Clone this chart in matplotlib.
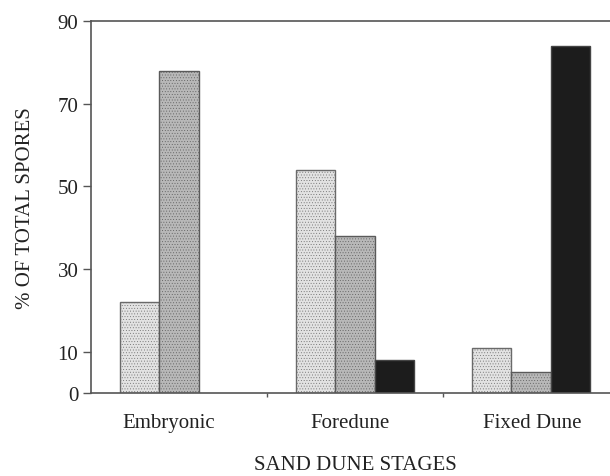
import numpy as np
import matplotlib
matplotlib.use('Agg')
import matplotlib.pyplot as plt

# Data
stages = ['Embryonic', 'Foredune', 'Fixed Dune']
light_vals = [22, 54, 11]
medium_vals = [78, 38, 5]
dark_vals = [0, 8, 84]
y_ticks = [0, 10, 30, 50, 70, 90]

plt.rcParams['font.family'] = ['Liberation Serif', 'DejaVu Serif']
plt.rcParams['hatch.linewidth'] = 0.3

fig = plt.figure(figsize=(6.10, 4.77), dpi=100)
ax = fig.add_axes([0.149, 0.174, 0.851, 0.780])

x = np.arange(len(stages))
w = 0.224

ax.bar(x - w, light_vals, w, color='#e2e2e2', edgecolor='#6a6a6a', hatch='......', lw=1.0)
ax.bar(x, medium_vals, w, color='#b8b8b8', edgecolor='#5a5a5a', hatch='......', lw=1.0)
ax.bar(x + w, [v if v > 0 else np.nan for v in dark_vals], w, color='#1c1c1c', edgecolor='#444444', lw=1.0)

ax.set_xlim(-0.5, 2.45)
ax.set_ylim(0, 90)
ax.set_yticks(y_ticks)
ax.tick_params(axis='y', labelsize=15, length=6, width=1, color='#555555', pad=3, labelcolor='#222222')

# category labels under each group (slightly off-centre as in the original),
# tick marks between groups
ax.set_xticks([0.5, 1.5])
ax.set_xticklabels([])
ax.tick_params(axis='x', length=3, width=1, color='#555555')
label_shift = [-0.06, -0.03, 0.01]
for xi, dx, name in zip(x, label_shift, stages):
    ax.text(xi + dx, -7.2, name, ha='center', va='center', fontsize=15, color='#222222')

ax.spines['right'].set_visible(False)
for s in ['left', 'bottom', 'top']:
    ax.spines[s].set_color('#555555')
    ax.spines[s].set_linewidth(1.2)

ax.set_ylabel('% OF TOTAL SPORES', fontsize=15, color='#222222', labelpad=16)
fig.text(0.582, 0.005, 'SAND DUNE STAGES', ha='center', va='bottom', fontsize=15, color='#222222')

fig.savefig('out.png', dpi=100)
